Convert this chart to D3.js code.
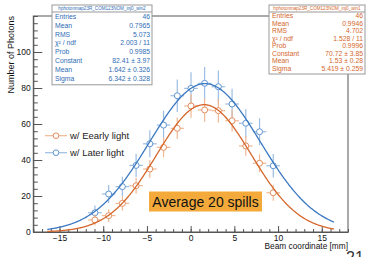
<!DOCTYPE html>
<html>
<head>
<meta charset="utf-8">
<script src="https://cdn.jsdelivr.net/npm/d3@7"></script>
<style>
  body { margin: 0; background: #fff; }
  svg { display: block; font-family: "Liberation Sans", Arial, sans-serif; }
</style>
</head>
<body>
<div id="chart"></div>
<script>
// bin centres (mm)
const binX = [-10.95, -9.38, -7.81, -6.24, -4.67, -3.1, -1.53, 0.04, 1.6, 3.17, 4.74, 6.31, 7.88, 9.45];
const binHalf = 0.78;

const laterY   = [10.7, 21.1, 25.2, 37, 49, 59.4, 75.7, 79.8, 82.6, 80.7, 71.1, 60.4, 55.7, 36.8];
const laterErr = [4, 5, 5.5, 6.5, 7.5, 8, 9, 9, 9, 9, 8.5, 8, 7.5, 6.5];
const earlyY   = [6.7, 9.1, 15.9, 25.7, 35, 47, 57.6, 70, 67.8, 67.4, 61.8, 47.8, 38.2, 21.8];
const earlyErr = [3, 3.5, 4, 4.5, 5, 5.5, 6, 6.5, 6.5, 6.5, 6, 5.5, 5, 4.5];

// gaussian fit parameters [constant, mean, sigma]
const laterFit = [82.41, 1.642, 6.342];
const earlyFit = [70.72, 1.53, 5.419];
const fitRange = [-16.4, 16.4];

const xMajor = [-15, -10, -5, 0, 5, 10, 15];
const yMajor = [0, 20, 40, 60, 80, 100];

const laterStats = [
  ['Entries', '46'], ['Mean', '0.7965'], ['RMS', '5.073'], ['χ² / ndf', '2.003 / 11'],
  ['Prob', '0.9985'], ['Constant', '82.41 ± 3.97'], ['Mean', '1.642 ± 0.326'], ['Sigma', '6.342 ± 0.328']
];
const earlyStats = [
  ['Entries', '46'], ['Mean', '0.9946'], ['RMS', '4.702'], ['χ² / ndf', '1.528 / 11'],
  ['Prob', '0.9996'], ['Constant', '70.72 ± 3.85'], ['Mean', '1.53 ± 0.28'], ['Sigma', '5.419 ± 0.259']
];

const width = 367, height = 257;
const frame = { left: 33.3, right: 348, top: 16, bottom: 232 };

const blue = { line: '#3b79c0', err: '#9cbde3', mark: '#5f95d2', text: '#2f6db5' };
const orange = { line: '#d5672c', err: '#f1b893', mark: '#e38f5f', text: '#d4672e' };

const svg = d3.select('#chart').append('svg')
  .attr('width', width)
  .attr('height', height);

svg.append('rect').attr('width', width).attr('height', height).attr('fill', '#fff');

const x = d3.scaleLinear().domain([-18, 18]).range([frame.left, frame.right]);
const y = d3.scaleLinear().domain([0, 120]).range([frame.bottom, frame.top]);

// frame
svg.append('rect')
  .attr('x', frame.left).attr('y', frame.top)
  .attr('width', frame.right - frame.left).attr('height', frame.bottom - frame.top)
  .attr('fill', 'none').attr('stroke', '#555').attr('stroke-width', 1);

// x axis
svg.append('g')
  .attr('transform', `translate(0,${frame.bottom})`)
  .call(d3.axisBottom(x).tickValues(d3.range(-18, 19, 1)).tickSize(-3).tickFormat(''))
  .call(g => g.select('.domain').remove());
svg.append('g')
  .attr('transform', `translate(0,${frame.bottom})`)
  .call(d3.axisBottom(x).tickValues(xMajor).tickSizeInner(-6).tickSizeOuter(0).tickPadding(2.5)
    .tickFormat(d => d < 0 ? '\u2212' + Math.abs(d) : d))
  .call(g => g.selectAll('text').style('font-size', '8.5px').attr('fill', '#111'))
  .call(g => g.select('.domain').attr('stroke', '#555'));

// y axis
svg.append('g')
  .attr('transform', `translate(${frame.left},0)`)
  .call(d3.axisLeft(y).tickValues(d3.range(0, 121, 4)).tickSize(-4.5).tickFormat(''))
  .call(g => g.select('.domain').remove());
svg.append('g')
  .attr('transform', `translate(${frame.left},0)`)
  .call(d3.axisLeft(y).tickValues(yMajor).tickSizeInner(-9).tickSizeOuter(0).tickPadding(2.5))
  .call(g => g.selectAll('text').style('font-size', '8.5px').attr('fill', '#111'))
  .call(g => g.select('.domain').attr('stroke', '#555'));

svg.selectAll('.tick line').attr('stroke', '#555');

svg.append('text')
  .attr('text-anchor', 'end')
  .attr('transform', `translate(14,${frame.top}) rotate(-90)`)
  .text('Number of Photons')
  .style('font-size', '9px')
  .attr('fill', '#111');

svg.append('text')
  .attr('text-anchor', 'end')
  .attr('x', frame.right)
  .attr('y', 249)
  .text('Beam coordinate [mm]')
  .style('font-size', '8.3px')
  .attr('fill', '#111');

// fit curves
const drawFit = (p, col) => {
  const gauss = v => p[0] * Math.exp(-0.5 * ((v - p[1]) / p[2]) ** 2);
  const pts = d3.range(fitRange[0], fitRange[1] + 0.001, 0.1).map(v => [v, gauss(v)]);
  svg.append('path')
    .datum(pts)
    .attr('fill', 'none')
    .attr('stroke', col)
    .attr('stroke-width', 1.3)
    .attr('d', d3.line().x(d => x(d[0])).y(d => y(d[1])));
};

// data points with error bars
const drawPoints = (ys, errs, col) => {
  const data = binX.map((v, i) => ({ x: v, y: ys[i], e: errs[i] }));
  const g = svg.append('g');
  g.selectAll('.ex').data(data).enter().append('line')
    .attr('x1', d => x(d.x - binHalf)).attr('x2', d => x(d.x + binHalf))
    .attr('y1', d => y(d.y)).attr('y2', d => y(d.y))
    .attr('stroke', col.err).attr('stroke-width', 1.2);
  g.selectAll('.ey').data(data).enter().append('line')
    .attr('x1', d => x(d.x)).attr('x2', d => x(d.x))
    .attr('y1', d => y(d.y - d.e)).attr('y2', d => y(d.y + d.e))
    .attr('stroke', col.err).attr('stroke-width', 1.2);
  g.selectAll('circle').data(data).enter().append('circle')
    .attr('cx', d => x(d.x)).attr('cy', d => y(d.y))
    .attr('r', 3)
    .attr('fill', '#fff')
    .attr('stroke', col.mark)
    .attr('stroke-width', 1);
};

drawPoints(laterY, laterErr, blue);
drawPoints(earlyY, earlyErr, orange);
drawFit(laterFit, blue.line);
drawFit(earlyFit, orange.line);

// legend
const legend = [
  { label: 'w/ Eearly light', col: orange, y: 135.7 },
  { label: 'w/ Later light', col: blue, y: 152.7 }
];
legend.forEach(l => {
  svg.append('line')
    .attr('x1', 45).attr('x2', 67).attr('y1', l.y).attr('y2', l.y)
    .attr('stroke', l.col.err).attr('stroke-width', 1.2);
  svg.append('circle')
    .attr('cx', 56).attr('cy', l.y).attr('r', 2.8)
    .attr('fill', '#fff').attr('stroke', l.col.mark).attr('stroke-width', 1);
  svg.append('text')
    .attr('x', 70).attr('y', l.y + 3.3)
    .text(l.label)
    .style('font-size', '9.5px')
    .attr('fill', '#222');
});

// stats boxes
const drawStats = (bx, by, bw, rowH, title, rows, col) => {
  const bh = 7 + rows.length * rowH + 2;
  const g = svg.append('g');
  g.append('rect')
    .attr('x', bx).attr('y', by).attr('width', bw).attr('height', bh)
    .attr('fill', '#fff').attr('stroke', '#999').attr('stroke-width', 1);
  g.append('line')
    .attr('x1', bx).attr('x2', bx + bw).attr('y1', by + 7).attr('y2', by + 7)
    .attr('stroke', '#999');
  g.append('text')
    .attr('x', bx + bw / 2).attr('y', by + 5.3)
    .attr('text-anchor', 'middle')
    .text(title)
    .style('font-size', '4.6px')
    .attr('fill', col.text);
  rows.forEach((r, i) => {
    const ty = by + 7 + rowH * (i + 0.5) + 2.4;
    g.append('text').attr('x', bx + 3).attr('y', ty)
      .text(r[0]).style('font-size', '6.8px').attr('fill', col.text);
    g.append('text').attr('x', bx + bw - 2).attr('y', ty)
      .attr('text-anchor', 'end')
      .text(r[1]).style('font-size', '6.8px').attr('fill', col.text);
  });
};

drawStats(52, 5, 100, 8.85, 'hphotonmap23R_COM123NOM_inj0_win2', laterStats, blue);
drawStats(269, 5, 96, 7.5, 'hphotonmap23R_COM123NOM_inj0_win1', earlyStats, orange);

// annotation
svg.append('rect')
  .attr('x', 149).attr('y', 191.5).attr('width', 113).attr('height', 20)
  .attr('fill', '#f3aa3b');
svg.append('text')
  .attr('x', 205.5).attr('y', 206.5)
  .attr('text-anchor', 'middle')
  .text('Average 20 spills')
  .style('font-size', '14px')
  .attr('fill', '#111');

// slide page number, cut by the picture edge as in the source
svg.append('text')
  .attr('x', 346).attr('y', 263)
  .text('21 / 24')
  .style('font-size', '16px')
  .attr('fill', '#333');
</script>
</body>
</html>
